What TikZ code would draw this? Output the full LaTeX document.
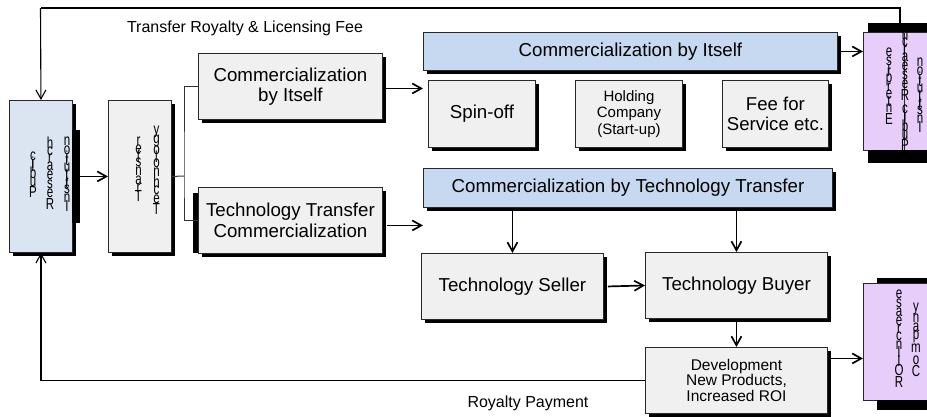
\documentclass[tikz,border=0pt]{standalone}
\usepackage{fontspec}
\setmainfont{Liberation Sans}
\usepackage{graphicx}
\usetikzlibrary{arrows.meta,shadows}

\definecolor{boxgray}{RGB}{240,240,240}
\definecolor{boxblue}{RGB}{198,217,240}
\definecolor{sideblue}{RGB}{219,229,241}
\definecolor{boxlilac}{RGB}{230,205,250}
\definecolor{edge}{RGB}{40,40,40}

% a column of upright letters, written top to bottom; each letter takes
% a vertical slot as tall as its own advance width
\newcommand\colletter[1]{\setbox0\hbox{#1}%
  \vbox to 1.05\wd0{\vss\hbox to 12pt{\hss\scalebox{0.72}[1]{#1}\hss}\vss}}
\def\colloop#1{\ifx#1\relax\else\ifx#1/\kern4pt\else\colletter{#1}\fi\expandafter\colloop\fi}
\newcommand\lettercolumn[1]{\vbox{\offinterlineskip\colloop#1\relax}}

\tikzset{
  box/.style={draw=edge, line width=0.9pt, inner sep=0pt, anchor=north west,
    drop shadow={shadow xshift=3.5pt, shadow yshift=-3.5pt, opacity=1, fill=black}},
  gbox/.style={box, fill=boxgray},
  bbox/.style={box, fill=boxblue},
  sbox/.style={box, fill=sideblue},
  pbox/.style={draw=edge, line width=0.9pt, inner sep=0pt, anchor=north west, fill=boxlilac},
  bigtext/.style={font=\fontsize{18.7}{20.5}\selectfont, align=center},
  vtext/.style={inner sep=0pt, font=\fontsize{16}{16}\selectfont},
  bar/.style={fill=black},
  arr/.style={line width=1.7pt, -{Straight Barb[length=9pt,width=10pt]}},
  ln/.style={line width=1pt, draw=black!80},
  fb/.style={line width=1.1pt, -{Straight Barb[length=9pt,width=10pt]}},
  lbl/.style={inner sep=0pt, font=\fontsize{16}{16}\selectfont}
}

\begin{document}
\begin{tikzpicture}[x=1pt,y=-1pt]
\clip (0,0) rectangle (927,416);
\fill[white] (0,0) rectangle (927,416);

% side columns
\node[sbox, minimum width=63pt, minimum height=152pt] (lbox) at (9,100) {};
\node[gbox, minimum width=63pt, minimum height=152pt] (tbox) at (108,100) {};

% second stage
\node[gbox, bigtext, minimum width=184pt, minimum height=66pt] (cself) at (198,53) {Commercialization\\by Itself};
\node[gbox, bigtext, minimum width=184pt, minimum height=66pt] (ttc) at (198,187) {Technology Transfer\\Commercialization};

% upper branch
\node[bbox, bigtext, minimum width=414pt, minimum height=38pt] (bself) at (423,32) {Commercialization by Itself};
\node[gbox, bigtext, minimum width=107pt, minimum height=67pt] (spin) at (428,80) {Spin-off};
\node[gbox, font=\fontsize{15}{16.7}\selectfont, align=center, minimum width=107pt, minimum height=67pt] (hold) at (575,80) {Holding\\Company\\(Start-up)};
\node[gbox, font=\fontsize{18.6}{19.5}\selectfont, align=center, minimum width=106pt, minimum height=67pt] (fee) at (722,80) {Fee for\\Service etc.};

% lower branch
\node[bbox, bigtext, minimum width=409pt, minimum height=39pt] (btt) at (423,168) {Commercialization by Technology Transfer};
\node[gbox, bigtext, minimum width=182pt, minimum height=66pt] (seller) at (421,253) {Technology Seller};
\node[gbox, bigtext, minimum width=182pt, minimum height=66pt] (buyer) at (645,252) {Technology Buyer};
\node[gbox, font=\fontsize{15.5}{15.3}\selectfont, align=center, minimum width=182pt, minimum height=66pt] (dev) at (645,347) {Development\\New Products,\\Increased ROI};

% feedback loop over the top
\coordinate (tr) at (900,8);
\coordinate (tl) at (40.5,8);
\draw[line width=1.1pt] (900,30) -- (tr) -- (tl);
\draw[fb] (tl) -- (lbox.north);

% end boxes
\node[pbox, minimum width=80pt, minimum height=118pt] (rtop) at (863,32) {};
\node[pbox, minimum width=80pt, minimum height=117pt] (rbot) at (863,283) {};
\draw[line width=0.7pt, draw=edge] (904,32) -- (904,150);

% heavy bars
\fill[bar] (72,130) rectangle (80,223);
\fill[bar] (193,193) rectangle (198,253);
\fill[bar] (868,23) rectangle (927,32);
\fill[bar] (868,150) rectangle (927,163);
\fill[bar] (877,278) rectangle (927,283);
\fill[bar] (877,400) rectangle (927,410);

% stacked vertical labels (read bottom to top)
\node[vtext] (l1) at (33,175) {\lettercolumn{cilbuP}};
\node[vtext] (l2) at (50,174) {\lettercolumn{hcraeseR}};
\node[vtext] (l3) at (67,172) {\lettercolumn{noitutitsnI}};
\node[vtext] (t1) at (138.5,170) {\lettercolumn{refsnarT}};
\node[vtext] (t2) at (156.5,171) {\lettercolumn{ygolonhceT}};
\node[vtext] (r1) at (889,86) {\lettercolumn{esirpretnE}};
\node[vtext] (r2) at (905,90) {\lettercolumn{hcraeseR/cilbuP}};
\node[vtext] (r3) at (920,93) {\lettercolumn{noitutitsnI}};
\node[vtext] (b1) at (899,339) {\lettercolumn{esaercnI/IOR}};
\node[vtext] (b2) at (916,341) {\lettercolumn{ynapmoC}};

% connectors
\draw[arr] (lbox.east) -- (tbox.west);
\coordinate (split) at (184,176);
\draw[ln] (tbox.east) -- (split);
\draw[ln] (cself.west) -| (split) |- (ttc.west);

\coordinate (cout) at ([yshift=-2pt]cself.east);
\draw[arr] (cout) -- (cout -| bself.west);
\coordinate (tout) at ([yshift=-5pt]ttc.east);
\draw[arr] ([xshift=4pt]tout) -- (tout -| btt.west);

\draw[arr] (bself.east) -- (bself.east -| rtop.west);
\draw[arr] (seller.north |- btt.south) -- (seller.north);
\draw[arr] (buyer.north |- btt.south) -- (buyer.north);
\draw[arr] ([xshift=4pt]seller.east) -- (buyer.west);
\draw[arr] (buyer.south) -- (dev.north);
\coordinate (dout) at ([yshift=22pt]dev.east);
\draw[arr] (dout) -- (dout -| rbot.west);
\draw[fb] (dev.west) -| (lbox.south);

% edge labels
\node[lbl] (fee-label) at (245,28) {Transfer Royalty \& Licensing Fee};
\node[lbl] (roy-label) at (528,403) {Royalty Payment};
\end{tikzpicture}
\end{document}
